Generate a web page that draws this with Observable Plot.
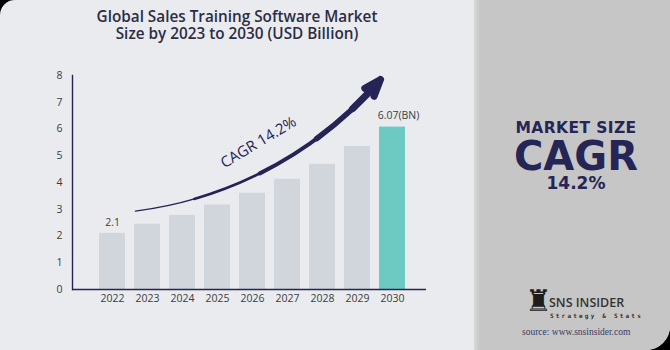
<!DOCTYPE html>
<html>
<head>
<meta charset="utf-8">
<script src="https://cdn.jsdelivr.net/npm/d3@7"></script>
<script src="https://cdn.jsdelivr.net/npm/@observablehq/plot@0.6"></script>
<style>
  html, body { margin: 0; padding: 0; background: #000; }
  #card { position: relative; width: 670px; height: 350px; overflow: hidden;
          background: #e9ebef; border-radius: 15px 0 24px 0; }
  .title { position: absolute; left: 0; width: 474px; text-align: center;
           font-family: "Open Sans", sans-serif; font-weight: 600; font-size: 15.3px;
           line-height: 16px; color: #2c2d45; }
  #t1 { top: 8px; }
  #t2 { top: 25px; }
  #chart { position: absolute; left: 0; top: 60px; }
  #side { position: absolute; left: 474px; top: 0; width: 196px; height: 350px;
          background: linear-gradient(to right, #d9d9d9 0px, #cfcfcf 3px, #c6c6c6 6px, #c6c6c6 100%); }
  .kpi { position: absolute; left: 0; width: 204px; text-align: center; color: #252556;
         font-family: "DejaVu Sans", sans-serif; font-weight: bold; }
  #k1 { top: 122px; font-size: 15.5px; letter-spacing: 0.4px; line-height: 12px; }
  #k2 { top: 141px; font-size: 40px; line-height: 30px; }
  #k3 { top: 176px; font-size: 17px; line-height: 14px; }
  #rook { position: absolute; left: 51px; top: 285px; font-family: "DejaVu Sans"; font-size: 30px; color: #1d1d1d; line-height: 32px; }
  #sns { position: absolute; left: 75px; top: 296px; font-family: "Open Sans", sans-serif; font-weight: 600;
         font-size: 12.5px; color: #333; line-height: 14px; }
  #strat { position: absolute; left: 76px; top: 312px; font-family: "DejaVu Sans Mono", monospace; font-weight: bold;
           font-size: 6px; letter-spacing: 2.2px; color: #333; line-height: 8px; }
  #src { position: absolute; left: 48px; top: 327px; font-family: "Liberation Serif", serif; font-size: 9.5px;
         color: #3b3b5c; line-height: 11px; }
</style>
</head>
<body>
<div id="card">
  <div class="title" id="t1">Global Sales Training Software Market</div>
  <div class="title" id="t2">Size by 2023 to 2030 (USD Billion)</div>
  <div id="chart"></div>
  <div id="side">
    <div class="kpi" id="k1">MARKET SIZE</div>
    <div class="kpi" id="k2">CAGR</div>
    <div class="kpi" id="k3">14.2%</div>
    <div id="rook">♜</div>
    <div id="sns">SNS INSIDER</div>
    <div id="strat">Strategy &amp; Stats</div>
    <div id="src">source: www.snsinsider.com</div>
  </div>
</div>
<script>
// ---- data ----
const years = ["2022", "2023", "2024", "2025", "2026", "2027", "2028", "2029", "2030"];
const values = [2.1, 2.44, 2.77, 3.16, 3.6, 4.12, 4.68, 5.35, 6.07];
const valueLabels = ["2.1", "", "", "", "", "", "", "", "6.07(BN)"];
const yTicks = [0, 1, 2, 3, 4, 5, 6, 7, 8];
const highlightYear = "2030";
const cagrText = "CAGR 14.2%";
const arrowFromYear = "2023";
const arrowToYear = "2030";
const arrowFromValue = 2.93;
const arrowToValue = 7.85;
const cagrTextYear = "2026";
const cagrTextValue = 5.5;

// ---- build ----
const table = years.map((year, i) => ({year, value: values[i], label: valueLabels[i]}));
const arrowData = [{from: arrowFromYear, to: arrowToYear, v1: arrowFromValue, v2: arrowToValue}];
const cagrData = [{year: cagrTextYear, value: cagrTextValue, text: cagrText}];

const navy = "#262456";
// tapered arrow: stacked arrows along the same arc, thicker toward the head
const arrowLayers = [
  {sw: 1.4, inset: 0},
  {sw: 2.6, inset: 60},
  {sw: 4, inset: 130},
  {sw: 5.5, inset: 195},
  {sw: 7, inset: 240}
];
const arrowMarks = arrowLayers.map(({sw, inset}) =>
  Plot.arrow(arrowData, {
    x1: "from", y1: "v1", x2: "to", y2: "v2",
    bend: -21, stroke: navy, strokeWidth: sw,
    headLength: 27 / sw, headAngle: 40, insetStart: inset, dx: -12
  })
);

const chart = Plot.plot({
  width: 474,
  height: 250,
  marginLeft: 72,
  marginRight: 48,
  marginTop: 15,
  marginBottom: 21,
  style: {background: "transparent", fontFamily: "'Open Sans', sans-serif", fontSize: "10.5px", color: "#3d3d3d"},
  x: {domain: years, paddingInner: 0.268, paddingOuter: 0.68, align: 0.555, label: null, tickSize: 0, tickPadding: 5},
  y: {domain: [0, 8], ticks: yTicks, label: null, tickSize: 0, tickPadding: 10},
  marks: [
    Plot.barY(table, {x: "year", y: "value", fill: d => d.year === highlightYear ? "#6dcac2" : "#d0d6dc"}),
    Plot.text(table.filter(d => d.year !== highlightYear), {x: "year", y: "value", text: "label", dy: -11, fill: "#3d3d3d", fontSize: 10.5}),
    Plot.text(table.filter(d => d.year === highlightYear), {x: "year", y: "value", text: "label", dy: -12, dx: 6, fill: "#3d3d3d", fontSize: 10.5}),
    ...arrowMarks,
    Plot.text(cagrData, {x: "year", y: "value", text: "text", rotate: -31, fontSize: 15, fill: navy, dx: 6}),
    Plot.ruleY([0], {stroke: navy, strokeWidth: 1.4}),
    Plot.frame({anchor: "left", stroke: navy, strokeWidth: 1.4})
  ]
});
document.getElementById("chart").appendChild(chart);
</script>
</body>
</html>
